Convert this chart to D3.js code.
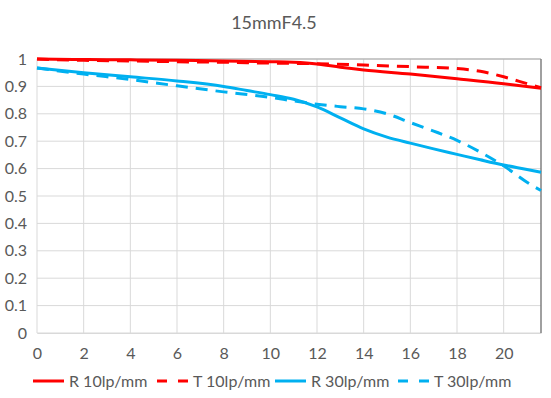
<!DOCTYPE html>
<html><head><meta charset="utf-8">
<script src="https://cdn.jsdelivr.net/npm/d3@7"></script>
<style>body{margin:0;background:#fff}svg{display:block}text{font-family:"Open Sans","Noto Sans",sans-serif;fill:#595959}</style>
</head><body><svg id="c" width="551" height="398"></svg>
<script>
const title = "15mmF4.5";
const xTicks = [0,2,4,6,8,10,12,14,16,18,20];
const yTicks = [0,0.1,0.2,0.3,0.4,0.5,0.6,0.7,0.8,0.9,1];
const xR10 = [0,2,4,6,8,10,11,12,13,14,16,18,20,21.6];
const R10 = [1.0,0.998,0.997,0.995,0.993,0.99,0.988,0.982,0.97,0.96,0.945,0.928,0.91,0.893];
const xT10 = [0,2,4,6,8,10,12,14,16,18,19,20,21,21.6];
const T10 = [1.0,0.995,0.993,0.99,0.988,0.985,0.983,0.978,0.972,0.965,0.955,0.935,0.91,0.895];
const xR30 = [0,2,4,6,8,9,10,11,12,13,14,15,16,17,18,19,20,21,21.6];
const R30 = [0.967,0.95,0.935,0.92,0.9,0.885,0.87,0.853,0.825,0.785,0.745,0.715,0.693,0.672,0.652,0.632,0.613,0.597,0.587];
const xT30 = [0,2,4,6,8,10,11,12,13,14,15,16,17,18,19,20,21,21.6];
const T30 = [0.967,0.945,0.925,0.902,0.88,0.86,0.847,0.835,0.826,0.818,0.8,0.768,0.737,0.703,0.66,0.61,0.55,0.52];
const seriesNames = ["R 10lp/mm","T 10lp/mm","R 30lp/mm","T 30lp/mm"];
const seriesColors = ["#FF0000","#FF0000","#00B0F0","#00B0F0"];
const seriesDashed = [false,true,false,true];

const FONT = "Lato, 'Open Sans', sans-serif";
const svg = d3.select("#c");
const L=37, R=541, T=59, B=333;
const x = d3.scaleLinear().domain([0,21.6]).range([L,R]);
const y = d3.scaleLinear().domain([0,1]).range([B,T]);

svg.append("text").attr("x",274).attr("y",29).attr("text-anchor","middle").attr("font-size",18).style("font-family",FONT).text(title);

const g = svg.append("g");
g.selectAll(".hg").data(yTicks).join("line").attr("x1",L).attr("x2",R).attr("y1",d=>y(d)).attr("y2",d=>y(d)).attr("stroke","#d9d9d9").attr("stroke-width",1);
g.selectAll(".vg").data(xTicks).join("line").attr("y1",T).attr("y2",B).attr("x1",d=>x(d)).attr("x2",d=>x(d)).attr("stroke","#d9d9d9").attr("stroke-width",1);
g.append("line").attr("x1",L).attr("x2",R).attr("y1",T).attr("y2",T).attr("stroke","#a6a6a6").attr("stroke-width",1.2);
g.append("line").attr("x1",R).attr("x2",R).attr("y1",T).attr("y2",B).attr("stroke","#808080").attr("stroke-width",1.5);

const xa = svg.append("g").attr("transform",`translate(0,${B})`).call(d3.axisBottom(x).tickValues(xTicks).tickSize(0).tickPadding(15).tickFormat(d3.format("d")));
xa.select(".domain").attr("stroke","#d9d9d9");
const ya = svg.append("g").attr("transform",`translate(${L},0)`).call(d3.axisLeft(y).tickValues(yTicks).tickSize(0).tickPadding(10).tickFormat(d=>d===0?"0":d===1?"1":d3.format(".1f")(d)));
ya.select(".domain").remove();
svg.selectAll(".tick text").attr("font-size",16).attr("fill","#595959").style("font-family",FONT);

const xs=[xR10,xT10,xR30,xT30], ys=[R10,T10,R30,T30];
const line = d3.line().x(d=>x(d[0])).y(d=>y(d[1])).curve(d3.curveMonotoneX);
[2,3,0,1].forEach(i=>{
  const pts = xs[i].map((v,j)=>[v,ys[i][j]]);
  svg.append("path").datum(pts).attr("d",line).attr("fill","none").attr("stroke",seriesColors[i]).attr("stroke-width",3).attr("stroke-dasharray",seriesDashed[i]?"12,8":null);
});

const legX=[33,157,275,398];
const lg = svg.append("g");
seriesNames.forEach((n,i)=>{
  lg.append("line").attr("x1",legX[i]).attr("x2",legX[i]+31).attr("y1",381).attr("y2",381).attr("stroke",seriesColors[i]).attr("stroke-width",3).attr("stroke-dasharray",seriesDashed[i]?"10,11":null);
  lg.append("text").attr("x",legX[i]+36).attr("y",387).attr("font-size",16).style("font-family",FONT).text(n);
});
</script></body></html>
